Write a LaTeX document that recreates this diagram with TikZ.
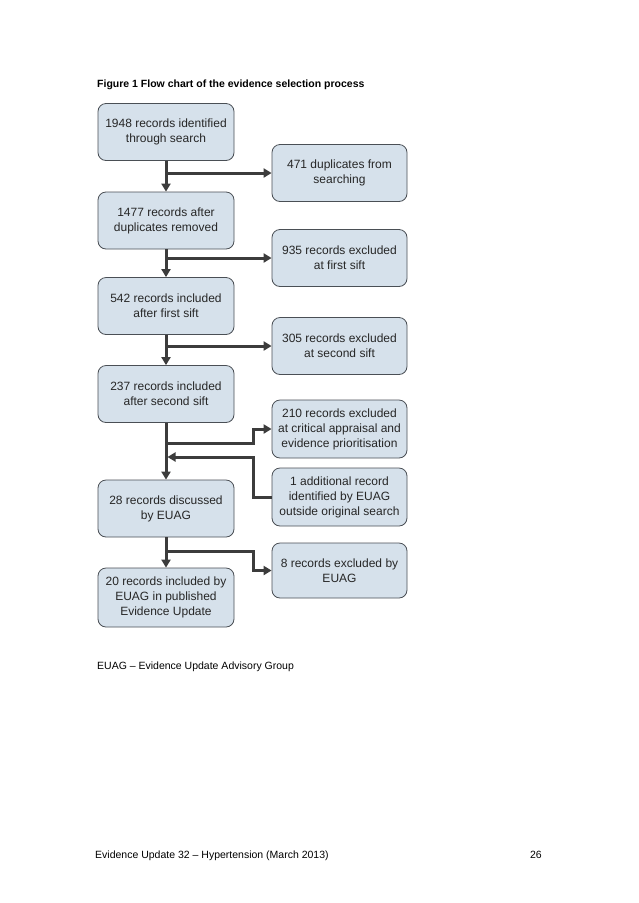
\documentclass[tikz,border=0pt]{standalone}
\usepackage{fontspec}
\setmainfont{Liberation Sans}
\usetikzlibrary{arrows.meta}
\definecolor{boxfill}{HTML}{D6E1EB}
\definecolor{boxline}{HTML}{4A4F55}
\definecolor{arrowc}{HTML}{3C3C3C}
\tikzset{
  flowbox/.style={draw=boxline, line width=0.8pt, fill=boxfill, rounded corners=8pt,
    minimum width=136pt, minimum height=57pt, align=center, inner sep=2pt,
    font=\fontsize{12}{15}\selectfont, text=black!85},
  flowarrow/.style={draw=arrowc, line width=3pt, line join=miter,
    -{Triangle[length=8pt,width=9pt]}},
  flowline/.style={draw=arrowc, line width=3pt, line join=miter},
  smalltext/.style={font=\fontsize{10.5}{12}\selectfont, inner sep=0pt}
}
\begin{document}
\begin{tikzpicture}[x=1pt,y=-1pt]
\useasboundingbox[fill=white] (0,0) rectangle (638,903);
\node[smalltext, font=\fontsize{10.5}{12}\selectfont\bfseries, anchor=base west] (title) at (97,87) {Figure 1 Flow chart of the evidence selection process};

\node[flowbox] (L1) at (166,132) {1948 records identified\\through search};
\node[flowbox] (L2) at (166,220.5) {1477 records after\\duplicates removed};
\node[flowbox] (L3) at (166,306) {542 records included\\after first sift};
\node[flowbox] (L4) at (166,394) {237 records included\\after second sift};
\node[flowbox] (L5) at (166,508.5) {28 records discussed\\by EUAG};
\node[flowbox, minimum height=59pt] (L6) at (166,597.5) {20 records included by\\EUAG in published\\Evidence Update};

\node[flowbox, minimum width=135pt] (R1) at (339.5,173) {471 duplicates from\\searching};
\node[flowbox, minimum width=135pt] (R2) at (339.5,258) {935 records excluded\\at first sift};
\node[flowbox, minimum width=135pt] (R3) at (339.5,346) {305 records excluded\\at second sift};
\node[flowbox, minimum width=135pt, minimum height=58pt] (R4) at (339.5,429) {210 records excluded\\at critical appraisal and\\evidence prioritisation};
\node[flowbox, minimum width=135pt, minimum height=58pt] (R5) at (339.5,497) {1 additional record\\identified by EUAG\\outside original search};
\node[flowbox, minimum width=135pt, minimum height=55pt] (R6) at (339.5,570.5) {8 records excluded by\\EUAG};

\coordinate (b1) at (166,173);
\coordinate (b2) at (166,258);
\coordinate (b3) at (166,346);
\coordinate (b4) at (166,443);
\coordinate (b5) at (166,457);
\coordinate (b6) at (166,551);
\coordinate (k4) at (253,443);
\coordinate (k5) at (253,457);
\coordinate (k6) at (253,551);

\draw[flowarrow] (L1.south) -- (L2.north);
\draw[flowarrow] (b1) -- (R1.west);
\draw[flowarrow] (L2.south) -- (L3.north);
\draw[flowarrow] (b2) -- (R2.west);
\draw[flowarrow] (L3.south) -- (L4.north);
\draw[flowarrow] (b3) -- (R3.west);
\draw[flowarrow] (L4.south) -- (L5.north);
\draw[flowarrow] (b4) -- (k4) |- (R4.west);
\draw[flowarrow] (R5.west) -| (k5) -- ([xshift=1.5pt]b5);
\draw[flowarrow] (L5.south) -- (L6.north);
\draw[flowarrow] (b6) -- (k6) |- (R6.west);

\node[smalltext, anchor=base west] (legend) at (97,669) {EUAG -- Evidence Update Advisory Group};
\node[smalltext, anchor=base west] (footer) at (95,858) {Evidence Update 32 -- Hypertension (March 2013)};
\node[smalltext, anchor=base east] (page) at (542,858) {26};
\end{tikzpicture}
\end{document}
